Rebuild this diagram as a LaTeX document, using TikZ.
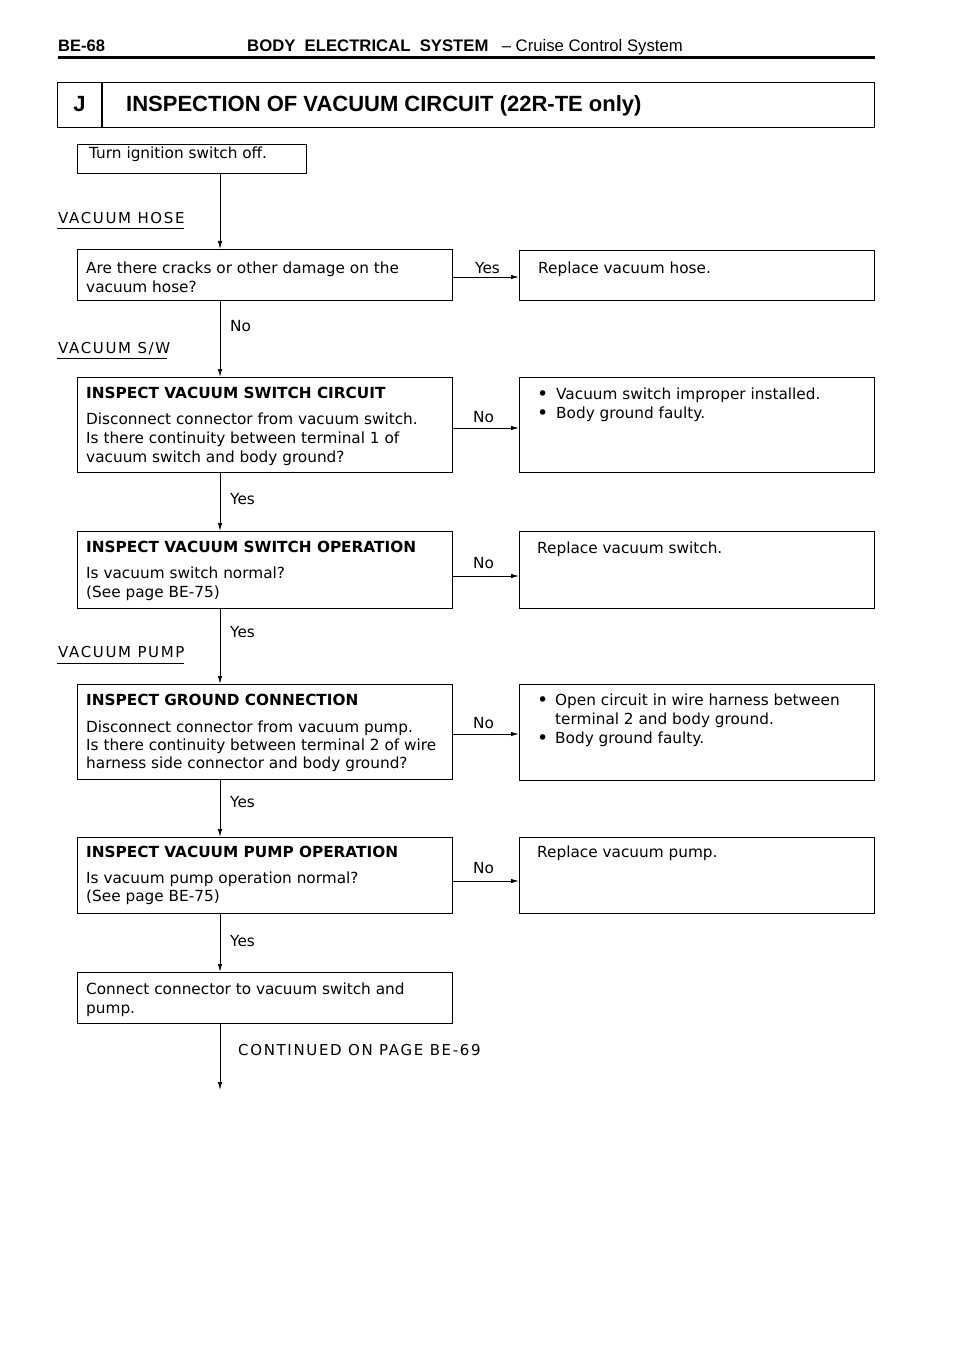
\documentclass[tikz,border=0pt]{standalone}
\usepackage{fontspec}
\setmainfont{DejaVu Sans}
\newfontfamily\hfont[Ligatures=TeX]{Liberation Sans}
\newfontfamily\capsfont[LetterSpace=11]{DejaVu Sans}
\usetikzlibrary{arrows.meta}
\begin{document}
\begin{tikzpicture}[x=1pt,y=-1pt,
  box/.style={draw, line width=1.2pt, inner sep=0pt, anchor=north west},
  lbox/.style={box, minimum width=375pt},
  rbox/.style={box, minimum width=355pt},
  txt/.style={anchor=base west, inner sep=0pt, font=\fontsize{15.3}{19}\selectfont},
  bul/.style={anchor=base west, inner sep=0pt, font=\fontsize{19}{19}\selectfont},
  hd/.style={anchor=base west, inner sep=0pt, font=\fontsize{15.3}{19}\selectfont\bfseries},
  sec/.style={anchor=base west, inner sep=0pt, font=\fontsize{15}{19}\capsfont},
  uline/.style={line width=1pt},
  arr/.style={line width=1pt, -{Latex[length=8pt,width=4.5pt]}},
  ln/.style={line width=1pt}]
\useasboundingbox (0,0) rectangle (960,1356);
\fill[white] (0,0) rectangle (960,1356);
% header
\node[anchor=base west, inner sep=0pt, font={\fontsize{16.5}{20}\hfont\bfseries}] (pg) at (58,52) {BE-68};
\node[anchor=base west, inner sep=0pt, font={\fontsize{16.7}{20}\hfont\bfseries}] (hdr) at (247,52) {BODY\ \ ELECTRICAL\ \ SYSTEM};
\node[anchor=base east, inner sep=0pt, font={\fontsize{16.7}{20}\hfont}] (hdr2) at (683,52) {– Cruise Control System};
\draw[line width=3pt] (58,58) -- (875,58);
% title box
\node[box, minimum width=817pt, minimum height=45pt] (tbox) at (57,82) {};
\draw[line width=1.2pt] ([xshift=45pt]tbox.north west) -- ([xshift=45pt]tbox.south west);
\node[anchor=base, inner sep=0pt, font={\fontsize{22}{26}\hfont\bfseries}] (tj) at (79.5,112) {J};
\node[anchor=base west, inner sep=0pt, font={\fontsize{22}{26}\hfont\bfseries}] (ttl) at (126,112) {INSPECTION OF VACUUM CIRCUIT (22R-TE only)};
% spine
\coordinate (sp) at (220,0);
% boxes
\node[box, minimum width=229pt, minimum height=29pt] (turn) at (77,144) {};
\node[lbox, minimum height=51pt] (q1) at (77,249) {};
\node[lbox, minimum height=95pt] (q2) at (77,377) {};
\node[lbox, minimum height=77pt] (q3) at (77,531) {};
\node[lbox, minimum height=95pt] (q4) at (77,684) {};
\node[lbox, minimum height=76pt] (q5) at (77,837) {};
\node[lbox, minimum height=51pt] (fin) at (77,972) {};
\node[rbox, minimum height=50pt] (r1) at (519,250) {};
\node[rbox, minimum height=95pt] (r2) at (519,377) {};
\node[rbox, minimum height=77pt] (r3) at (519,531) {};
\node[rbox, minimum height=96pt] (r4) at (519,684) {};
\node[rbox, minimum height=76pt] (r5) at (519,837) {};
% box texts
\node[txt] (t0) at (89,159) {Turn ignition switch off.};
\node[txt] (t1a) at (86,273) {Are there cracks or other damage on the};
\node[txt] (t1b) at (86,292) {vacuum hose?};
\node[txt] (s1) at (538,273) {Replace vacuum hose.};
\node[hd] (t2h) at (86,398) {INSPECT VACUUM SWITCH CIRCUIT};
\node[txt] (t2a) at (86,424) {Disconnect connector from vacuum switch.};
\node[txt] (t2b) at (86,443) {Is there continuity between terminal 1 of};
\node[txt] (t2c) at (86,462) {vacuum switch and body ground?};
\node[bul] (b2a) at (537,400) {•};
\node[txt] (s2a) at (556,399) {Vacuum switch improper installed.};
\node[bul] (b2b) at (537,419) {•};
\node[txt] (s2b) at (556,418) {Body ground faulty.};
\node[hd] (t3h) at (86,552) {INSPECT VACUUM SWITCH OPERATION};
\node[txt] (t3a) at (86,578) {Is vacuum switch normal?};
\node[txt] (t3b) at (86,597) {(See page BE-75)};
\node[txt] (s3) at (537,553) {Replace vacuum switch.};
\node[hd] (t4h) at (86,705) {INSPECT GROUND CONNECTION};
\node[txt] (t4a) at (86,732) {Disconnect connector from vacuum pump.};
\node[txt] (t4b) at (86,750) {Is there continuity between terminal 2 of wire};
\node[txt] (t4c) at (86,768) {harness side connector and body ground?};
\node[bul] (b4a) at (537,706) {•};
\node[txt] (s4a) at (555,705) {Open circuit in wire harness between};
\node[txt] (s4b) at (555,724) {terminal 2 and body ground.};
\node[bul] (b4c) at (537,744) {•};
\node[txt] (s4c) at (555,743) {Body ground faulty.};
\node[hd] (t5h) at (86,857) {INSPECT VACUUM PUMP OPERATION};
\node[txt] (t5a) at (86,883) {Is vacuum pump operation normal?};
\node[txt] (t5b) at (86,901) {(See page BE-75)};
\node[txt] (s5) at (537,857) {Replace vacuum pump.};
\node[txt] (t6a) at (86,994) {Connect connector to vacuum switch and};
\node[txt] (t6b) at (86,1013) {pump.};
% section labels
\node[sec] (vh) at (58,224) {VACUUM HOSE};
\draw[uline] (57,229) -- (184,229);
\node[sec] (vs) at (58,353) {VACUUM S/W};
\draw[uline] (57,358) -- (167,358);
\node[sec] (vp) at (58,657) {VACUUM PUMP};
\draw[uline] (57,663) -- (184,663);
% vertical connectors
\draw[arr] (turn.south -| sp) -- (q1.north -| sp);
\draw[arr] (q1.south -| sp) -- (q2.north -| sp);
\draw[arr] (q2.south -| sp) -- (q3.north -| sp);
\draw[arr] (q3.south -| sp) -- (q4.north -| sp);
\draw[arr] (q4.south -| sp) -- (q5.north -| sp);
\draw[arr] (q5.south -| sp) -- (fin.north -| sp);
\coordinate (cont) at (220,1090);
\draw[arr] (fin.south -| sp) -- (cont);
% horizontal connectors
\coordinate (h1) at (0,277);
\coordinate (h2) at (0,428);
\coordinate (h3) at (0,576);
\coordinate (h4) at (0,734);
\coordinate (h5) at (0,881);
\draw[arr] (q1.east |- h1) -- (r1.west |- h1);
\draw[arr] (q2.east |- h2) -- (r2.west |- h2);
\draw[arr] (q3.east |- h3) -- (r3.west |- h3);
\draw[arr] (q4.east |- h4) -- (r4.west |- h4);
\draw[arr] (q5.east |- h5) -- (r5.west |- h5);
% connector labels
\node[txt] (y1) at (475,273) {Yes};
\node[txt] (n1) at (230,331) {No};
\node[txt] (n2) at (473,422) {No};
\node[txt] (y2) at (230,504) {Yes};
\node[txt] (n3) at (473,568) {No};
\node[txt] (y3) at (230,637) {Yes};
\node[txt] (n4) at (473,728) {No};
\node[txt] (y4) at (230,807) {Yes};
\node[txt] (n5) at (473,873) {No};
\node[txt] (y5) at (230,946) {Yes};
\node[sec] (ct) at (238,1055) {CONTINUED ON PAGE BE-69};
\end{tikzpicture}
\end{document}
